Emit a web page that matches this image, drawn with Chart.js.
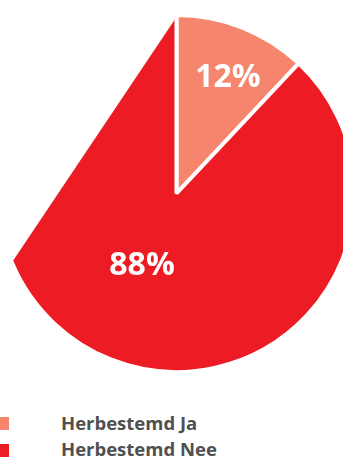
<!DOCTYPE html>
<html>
<head>
<meta charset="utf-8">
<script src="https://cdn.jsdelivr.net/npm/chart.js@4.4.1/dist/chart.umd.min.js"></script>
<style>
  html, body { margin: 0; padding: 0; background: #fff; width: 343px; height: 459px; overflow: hidden; }
  #pieWrap { position: absolute; left: -4px; top: 13px; width: 361px; height: 361px; }
  #legend { position: absolute; left: 0; top: 413.5px; font-family: 'Open Sans', sans-serif; font-weight: 700; font-size: 18.5px; line-height: 1; color: #505050; }
  .lg-row { position: relative; height: 26.7px; }
  .lg-box { position: absolute; left: -4px; top: 3.8px; width: 13px; height: 13px; }
  .lg-text { position: absolute; left: 61px; top: 0; white-space: nowrap; }
</style>
</head>
<body>
<div id="pieWrap"><canvas id="pieChart"></canvas></div>
<div id="legend"></div>
<script>
const CATEGORIES = ['Herbestemd Ja', 'Herbestemd Nee'];
const VALUES = [12, 88];
const COLORS = ['#f5856d', '#ed1c24'];

// label placement: fraction of radius and a small angle nudge (deg)
const LABEL_RADIUS = [0.711, 0.447];
const LABEL_NUDGE = [2.3, 4.0];
// where the odd straight edge of the big slice starts (deg clockwise from top)
const CHORD_FROM_DEG = 247.7;

const total = VALUES.reduce((a, b) => a + b, 0);
const PERCENT_LABELS = VALUES.map(v => Math.round(v / total * 100) + '%');

const pieExtras = {
    id: 'pieExtras',
    afterDatasetsDraw(chart) {
        const { ctx } = chart;
        const meta = chart.getDatasetMeta(0);
        const big = meta.data[1];
        const bw = big.options.borderWidth;
        const R = big.outerRadius - bw / 2;
        const R2 = big.outerRadius + 6;
        const x = big.x, y = big.y;
        const a1 = -Math.PI / 2 + CHORD_FROM_DEG * Math.PI / 180;
        const a2 = big.endAngle;

        ctx.save();
        ctx.beginPath();
        ctx.moveTo(x + R * Math.cos(a1), y + R * Math.sin(a1));
        ctx.lineTo(x + R2 * Math.cos(a1), y + R2 * Math.sin(a1));
        ctx.arc(x, y, R2, a1, a2);
        ctx.lineTo(x + R * Math.cos(a2), y + R * Math.sin(a2));
        ctx.closePath();
        ctx.fillStyle = '#fff';
        ctx.fill();

        ctx.fillStyle = '#fff';
        ctx.font = "bold 32px 'Open Sans', sans-serif";
        ctx.textAlign = 'center';
        ctx.textBaseline = 'middle';
        meta.data.forEach((arc, i) => {
            const mid = (arc.startAngle + arc.endAngle) / 2 + LABEL_NUDGE[i] * Math.PI / 180;
            const r = arc.outerRadius * LABEL_RADIUS[i];
            ctx.fillText(PERCENT_LABELS[i], arc.x + Math.cos(mid) * r, arc.y + Math.sin(mid) * r);
        });
        ctx.restore();
    }
};

new Chart(document.getElementById('pieChart'), {
    type: 'pie',
    data: {
        labels: CATEGORIES,
        datasets: [{
            data: VALUES,
            backgroundColor: COLORS,
            borderColor: '#fff',
            borderWidth: 4
        }]
    },
    options: {
        responsive: true,
        maintainAspectRatio: false,
        animation: false,
        layout: { padding: 0 },
        plugins: { legend: { display: false }, tooltip: { enabled: false } }
    },
    plugins: [pieExtras]
});

const legendEl = document.getElementById('legend');
CATEGORIES.forEach((name, i) => {
    const row = document.createElement('div');
    row.className = 'lg-row';
    row.innerHTML = `<span class="lg-box" style="background:${COLORS[i]}"></span><span class="lg-text">${name}</span>`;
    legendEl.appendChild(row);
});
</script>
</body>
</html>
